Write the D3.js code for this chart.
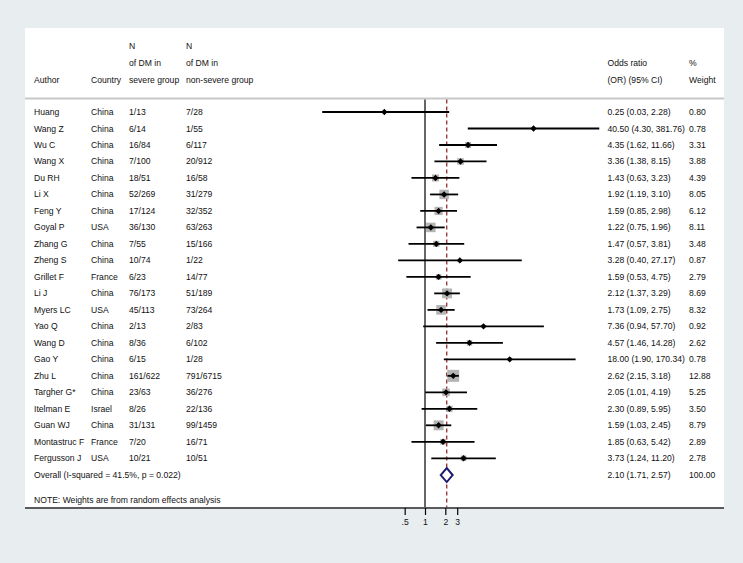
<!DOCTYPE html>
<html><head><meta charset="utf-8">
<script src="https://cdn.jsdelivr.net/npm/d3@7"></script>
<style>body{margin:0;background:#e8edf0;} svg{display:block;} text{font-family:"Liberation Sans",Arial,sans-serif;font-size:8.6px;fill:#111;}</style>
</head><body><svg id="c" width="743" height="563"></svg>
<script>
const authors = ["Huang","Wang Z","Wu C","Wang X","Du RH","Li X","Feng Y","Goyal P","Zhang G","Zheng S","Grillet F","Li J","Myers LC","Yao Q","Wang D","Gao Y","Zhu L","Targher G*","Itelman E","Guan WJ","Montastruc F","Fergusson J"];
const countries = ["China","China","China","China","China","China","China","USA","China","China","France","China","USA","China","China","China","China","China","Israel","China","France","USA"];
const severe = ["1/13","6/14","16/84","7/100","18/51","52/269","17/124","36/130","7/55","10/74","6/23","76/173","45/113","2/13","8/36","6/15","161/622","23/63","8/26","31/131","7/20","10/21"];
const nonSevere = ["7/28","1/55","6/117","20/912","16/58","31/279","32/352","63/263","15/166","1/22","14/77","51/189","73/264","2/83","6/102","1/28","791/6715","36/276","22/136","99/1459","16/71","10/51"];
const orVals = [0.25,40.50,4.35,3.36,1.43,1.92,1.59,1.22,1.47,3.28,1.59,2.12,1.73,7.36,4.57,18.00,2.62,2.05,2.30,1.59,1.85,3.73];
const ciLow = [0.03,4.30,1.62,1.38,0.63,1.19,0.85,0.75,0.57,0.40,0.53,1.37,1.09,0.94,1.46,1.90,2.15,1.01,0.89,1.03,0.63,1.24];
const ciHigh = [2.28,381.76,11.66,8.15,3.23,3.10,2.98,1.96,3.81,27.17,4.75,3.29,2.75,57.70,14.28,170.34,3.18,4.19,5.95,2.45,5.42,11.20];
const weights = [0.80,0.78,3.31,3.88,4.39,8.05,6.12,8.11,3.48,0.87,2.79,8.69,8.32,0.92,2.62,0.78,12.88,5.25,3.50,8.79,2.89,2.78];
const overall = {or:2.10, lo:1.71, hi:2.57, weight:"100.00", label:"Overall  (I-squared = 41.5%, p = 0.022)"};
const tickVals = [0.5,1,2,3];
const tickLabels = [".5","1","2","3"];

const svg = d3.select("#c");
// panel
svg.append("rect").attr("x",25).attr("y",28).attr("width",699).attr("height",480).attr("fill","#fff");

const x = d3.scaleLog().domain([1,10]).range([425,425+67.5]);
const n = authors.length;
const y = d3.scaleLinear().domain([0,n]).range([112,112+16.49*n]);

// header
const cols = {author:34, country:91, sev:129, non:186, or:607.5, w:689};
const hdr = [
  [cols.sev,46,"N"],[cols.non,46,"N"],
  [cols.sev,63,"of DM in"],[cols.non,63,"of DM in"],
  [cols.author,79.5,"Author"],[cols.country,79.5,"Country"],[cols.sev,79.5,"severe group"],[cols.non,79.5,"non-severe group"],
  [cols.or,63,"Odds ratio"],[cols.or,79.5,"(OR) (95% CI)"],[cols.w,63,"%"],[cols.w,79.5,"Weight"]
];
svg.selectAll("text.h").data(hdr).join("text").attr("class","h")
  .attr("x",d=>d[0]).attr("y",d=>d[1]).attr("dy","0.35em").text(d=>d[2]);
svg.append("line").attr("x1",25).attr("x2",724).attr("y1",98.5).attr("y2",98.5).attr("stroke","#c8c8c8").attr("stroke-width",2);

// reference lines
svg.append("line").attr("x1",x(1)).attr("x2",x(1)).attr("y1",99.5).attr("y2",508).attr("stroke","#000").attr("stroke-width",1.2);
svg.append("line").attr("x1",x(overall.or)).attr("x2",x(overall.or)).attr("y1",99.5).attr("y2",508)
  .attr("stroke","#8b1a1a").attr("stroke-width",1.2).attr("stroke-dasharray","4,3");

const idx = d3.range(n);
// boxes
svg.selectAll("rect.box").data(idx).join("rect").attr("class","box")
  .attr("x",i=>x(orVals[i])-3.34*Math.sqrt(weights[i])/2)
  .attr("y",i=>y(i)-3.34*Math.sqrt(weights[i])/2)
  .attr("width",i=>3.34*Math.sqrt(weights[i]))
  .attr("height",i=>3.34*Math.sqrt(weights[i]))
  .attr("fill","#b4b4b4");
// CI lines
svg.selectAll("line.ci").data(idx).join("line").attr("class","ci")
  .attr("x1",i=>x(ciLow[i])).attr("x2",i=>x(ciHigh[i]))
  .attr("y1",i=>y(i)).attr("y2",i=>y(i)).attr("stroke","#000").attr("stroke-width",1.8);
// points
svg.selectAll("path.pt").data(idx).join("path").attr("class","pt")
  .attr("d",i=>{const cx=x(orVals[i]),cy=y(i),r=3.2;return `M${cx},${cy-r}L${cx+r},${cy}L${cx},${cy+r}L${cx-r},${cy}Z`;})
  .attr("fill","#000");

// row text
const rowText = (arr,xp,cls)=>svg.selectAll("text."+cls).data(idx).join("text").attr("class",cls)
  .attr("x",xp).attr("y",i=>y(i)).attr("dy","0.35em").text(i=>arr[i]);
rowText(authors,cols.author,"a");
rowText(countries,cols.country,"c");
rowText(severe,cols.sev,"s");
rowText(nonSevere,cols.non,"ns");
svg.selectAll("text.or").data(idx).join("text").attr("class","or")
  .attr("x",cols.or).attr("y",i=>y(i)).attr("dy","0.35em")
  .text(i=>`${orVals[i].toFixed(2)} (${ciLow[i].toFixed(2)}, ${ciHigh[i].toFixed(2)})`);
svg.selectAll("text.w").data(idx).join("text").attr("class","w")
  .attr("x",cols.w).attr("y",i=>y(i)).attr("dy","0.35em").text(i=>weights[i].toFixed(2));

// overall
const yo = y(n) + 0.3;
svg.append("text").attr("x",cols.author).attr("y",yo).attr("dy","0.35em").text(overall.label);
svg.append("text").attr("x",cols.or).attr("y",yo).attr("dy","0.35em")
  .text(`${overall.or.toFixed(2)} (${overall.lo.toFixed(2)}, ${overall.hi.toFixed(2)})`);
svg.append("text").attr("x",cols.w).attr("y",yo).attr("dy","0.35em").text(overall.weight);
svg.append("path").attr("d",`M${x(overall.lo)},${yo}L${x(overall.or)},${yo-7}L${x(overall.hi)},${yo}L${x(overall.or)},${yo+7}Z`)
  .attr("fill","#fff").attr("stroke","#1c1c6e").attr("stroke-width",2);

svg.append("text").attr("x",cols.author).attr("y",500).attr("dy","0.35em").text("NOTE: Weights are from random effects analysis");

// bottom axis
svg.append("line").attr("x1",25).attr("x2",724).attr("y1",508).attr("y2",508).attr("stroke","#5a5a5a").attr("stroke-width",2);
const ax = svg.append("g").attr("transform","translate(0,508)")
  .call(d3.axisBottom(x).tickValues(tickVals).tickFormat((d,i)=>tickLabels[i]).tickSize(7).tickPadding(4));
ax.select(".domain").remove();
ax.selectAll("line").attr("stroke","#000").attr("stroke-width",1.2);
ax.selectAll("text").style("font-family","Liberation Sans, Arial, sans-serif").style("font-size","8.6px").attr("fill","#111");
</script></body></html>
